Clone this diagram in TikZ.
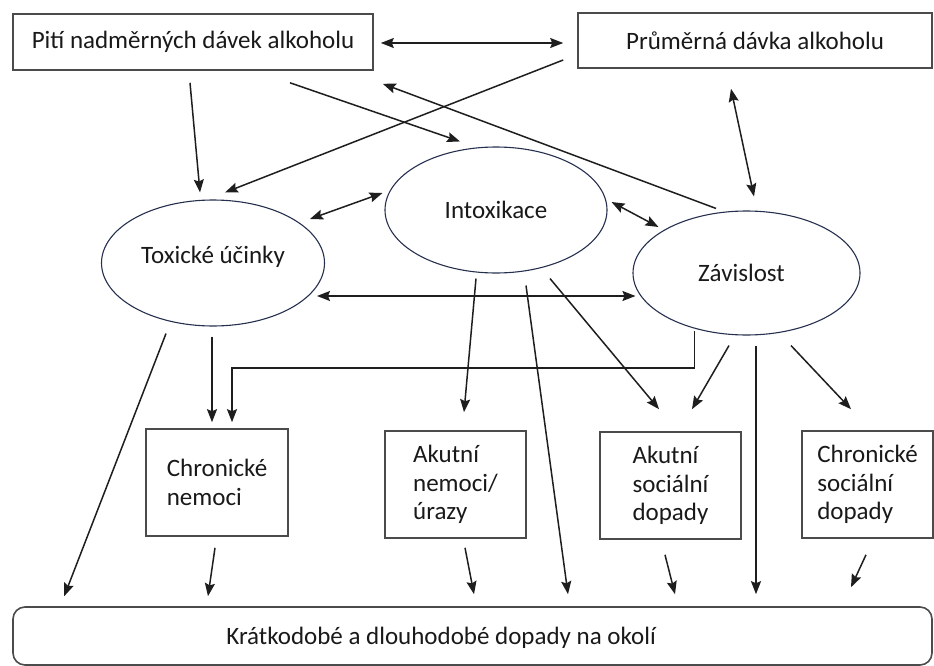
\documentclass[tikz,border=0pt]{standalone}
\usepackage{fontspec}
\setmainfont{Carlito}
\usetikzlibrary{shapes.geometric,arrows.meta,calc}

\definecolor{ovalblue}{RGB}{38,48,78}
\definecolor{boxgray}{RGB}{75,75,75}
\definecolor{linegray}{RGB}{30,30,30}

\tikzset{
  rbox/.style={draw=boxgray, line width=1.6pt, rectangle, inner sep=0pt, align=left},
  oval/.style={draw=ovalblue, ellipse, line width=1.1pt, inner sep=0pt},
  arr/.style={-{Stealth[length=13pt,width=10pt,inset=2pt]}, line width=1.5pt, draw=linegray},
  darr/.style={{Stealth[length=13pt,width=10pt,inset=2pt]}-{Stealth[length=13pt,width=10pt,inset=2pt]}, line width=1.5pt, draw=linegray}
}

\begin{document}
\begin{tikzpicture}[x=1pt, y=-1pt, font=\fontsize{25}{28.5}\selectfont, text=black!90]
  \useasboundingbox (0,0) rectangle (934,666);

  %-------------
  \node[rbox, minimum width=360pt, minimum height=56pt] (piti) at (193,42) {Pití nadměrných dávek alkoholu};
  \node[rbox, minimum width=354pt, minimum height=55pt] (prumer) at (755,40.5) {Průměrná dávka alkoholu};

  \node[oval, minimum width=223pt, minimum height=126pt] (toxic) at (213,263) {};
  \node (toxictext) at ($(toxic.center)+(0,-6)$) {Toxické účinky};
  \node[oval, minimum width=222pt, minimum height=126pt] (intox) at (496,210) {Intoxikace};
  \node[oval, minimum width=227pt, minimum height=124pt] (zavis) at (746.5,273) {};
  \node (zavistext) at ($(zavis.center)+(-5,0)$) {Závislost};

  %-------------
  \node[rbox, minimum width=142pt, minimum height=107pt] (chronem) at (217,482.5) {Chronické\\nemoci};
  \node[rbox, minimum width=141pt, minimum height=107pt] (akutnem) at (455.5,484.5) {Akutní\\nemoci/\\úrazy};
  \node[rbox, minimum width=141pt, minimum height=107pt] (akutsoc) at (670.5,485.5) {Akutní\\sociální\\dopady};
  \node[rbox, minimum width=131pt, minimum height=107pt] (chronsoc) at (867.5,484.5) {Chronické\\sociální\\dopady};

  \node[rbox, rounded corners=12pt, minimum width=919pt, minimum height=58pt] (okoli) at (472.5,636) {};
  \node[anchor=west, inner sep=0pt] (okolitext) at ($(okoli.west)+(214,2)$) {Krátkodobé a dlouhodobé dopady na okolí};

  %-------------
  \draw[darr] ($(piti.east)+(7,1)$) -- ($(prumer.west)+(-14,2.5)$);
  \draw[arr] ($(piti.south)+(-3,12)$) -- ($(toxic.north)+(-13,-7)$);
  \draw[arr] ($(piti.south)+(97,12)$) -- ($(intox.north)+(-36,-5)$);
  \draw[arr] ($(prumer.west)+(-14,19.5)$) -- ($(toxic.north)+(12,-7)$);
  \draw[arr] ($(zavis.north)+(-30.5,-2)$) -- ($(piti.south east)+(9,13)$);
  \draw[darr] ($(prumer.south)+(-24,20)$) -- ($(zavis.north)+(7.5,-14)$);

  %-------------
  \draw[darr] ($(toxic.center)+(97,-44)$) -- ($(intox.west)+(-2,-17)$);
  \draw[darr] ($(intox.east)+(4,-8)$) -- ($(zavis.west)+(26,-46)$);
  \draw[darr] ($(toxic.center)+(104,33)$) -- ($(zavis.west)+(3,23)$);

  %-------------
  \draw[arr] ($(toxic.south)+(-47,7)$) -- ($(okoli.north west)+(52,-10)$);
  \draw[arr] ($(toxic.south)+(-1,10)$) -- ($(chronem.north)+(-5,-6)$);
  \draw[arr] ($(zavis.south)+(-52,-5)$) |- ($(chronem.north)+(15,-60)$) -- ($(chronem.north)+(15,-6)$);
  \draw[arr] ($(intox.south)+(-20,5)$) -- ($(akutnem.north)+(8.5,-18)$);
  \draw[arr] ($(intox.south)+(30,12)$) -- ($(okoli.north)+(95.5,-12)$);
  \draw[arr] ($(intox.south)+(54,5)$) -- ($(akutsoc.north)+(-11.5,-22)$);
  \draw[arr] ($(zavis.south)+(-17.5,10)$) -- ($(akutsoc.north)+(21.5,-22)$);
  \draw[arr] ($(zavis.south)+(9.5,10)$) -- ($(okoli.north)+(283.5,-12)$);
  \draw[arr] ($(zavis.south)+(44.5,10)$) -- ($(chronsoc.north)+(-16.5,-21)$);

  %-------------
  \draw[arr] ($(chronem.south)+(-2,11)$) -- ($(okoli.north)+(-264.5,-10)$);
  \draw[arr] ($(akutnem.south)+(9.5,9)$) -- ($(okoli.north)+(1.5,-12)$);
  \draw[arr] ($(akutsoc.south)+(-5.5,15)$) -- ($(okoli.north)+(202.5,-12)$);
  \draw[arr] ($(chronsoc.south)+(-1.5,16)$) -- ($(okoli.north)+(378.5,-19)$);

\end{tikzpicture}
\end{document}
